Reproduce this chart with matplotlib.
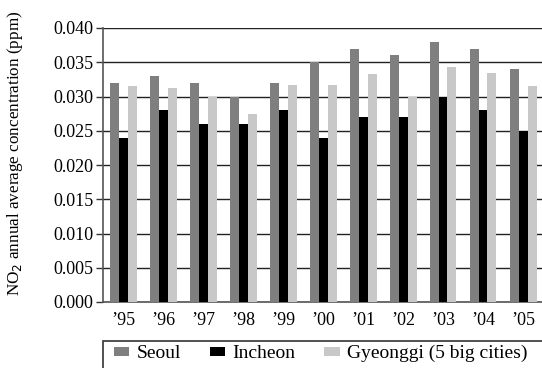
import matplotlib.pyplot as plt
from matplotlib.patches import Rectangle
import numpy as np

# data
years = ["\u201995", "\u201996", "\u201997", "\u201998", "\u201999", "\u201900",
         "\u201901", "\u201902", "\u201903", "\u201904", "\u201905"]
seoul = [0.032, 0.033, 0.032, 0.030, 0.032, 0.035, 0.037, 0.036, 0.038, 0.037, 0.034]
incheon = [0.024, 0.028, 0.026, 0.026, 0.028, 0.024, 0.027, 0.027, 0.030, 0.028, 0.025]
gyeonggi = [0.0315, 0.0312, 0.0299, 0.0274, 0.0317, 0.0317, 0.0333, 0.0299, 0.0343, 0.0334, 0.0316]

plt.rcParams['font.family'] = ['Liberation Serif', 'DejaVu Serif']

fig = plt.figure(figsize=(5.42, 3.68), dpi=100)
ax = fig.add_axes([103 / 542, 1 - 302 / 368, 1 - 103 / 542, (302 - 28) / 368])

x = np.arange(len(years))
w = 0.225
ax.bar(x - w, seoul, w, color='#7f7f7f', label='Seoul', zorder=3)
ax.bar(x, incheon, w, color='black', label='Incheon', zorder=3)
ax.bar(x + w, gyeonggi, w, color='#c8c8c8', label='Gyeonggi (5 big cities)', zorder=3)

ax.set_xlim(-0.5, 10.475)
ax.set_ylim(0, 0.040)
ax.set_yticks(np.arange(0, 0.0401, 0.005))
ax.set_yticklabels([f"{v:.3f}" for v in np.arange(0, 0.0401, 0.005)])
ax.set_xticks(x)
ax.set_xticklabels(years)
ax.tick_params(axis='y', labelsize=13, length=5, width=1, color='#333333', pad=2)
ax.tick_params(axis='x', labelsize=13, length=0, pad=7)
ax.yaxis.grid(True, color='#222222', linewidth=1, zorder=0)
ax.set_axisbelow(True)
for s in ['top', 'right']:
    ax.spines[s].set_visible(False)
ax.spines['left'].set_color('#555555')
ax.spines['bottom'].set_color('#555555')
ax.spines['left'].set_linewidth(1.2)
ax.spines['bottom'].set_linewidth(1.2)

fig.text(15 / 542, 1 - 153 / 368, "NO$_2$ annual average concentration (ppm)",
         rotation=90, ha='center', va='center', fontsize=12.3)

# legend box runs off the right and bottom edges in the original
fig.patches.append(Rectangle((103 / 542, -0.1), 1.0, 1 - 341 / 368 + 0.1,
                             transform=fig.transFigure, fill=False,
                             edgecolor='#333333', linewidth=1.2))
fig.legend(loc='upper left', bbox_to_anchor=(110 / 542, 1 - 341 / 368),
           ncol=3, fontsize=14, frameon=False,
           handlelength=0.8, handleheight=0.35,
           columnspacing=1.5, handletextpad=0.35, borderpad=0.2,
           borderaxespad=0)

fig.savefig("out.png", dpi=100)
